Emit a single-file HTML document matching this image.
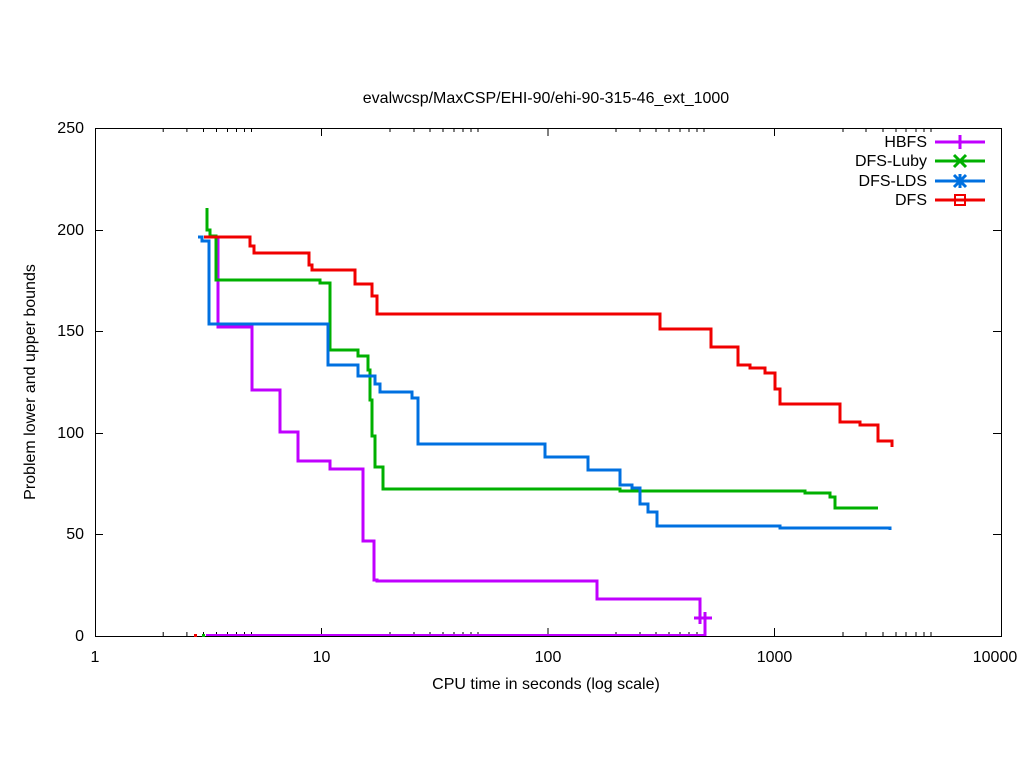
<!DOCTYPE html>
<html><head><style>body{margin:0;background:#fff}svg{display:block}text{font-family:"Liberation Sans",sans-serif;font-size:16px}</style></head><body>
<svg width="1024" height="768" xmlns="http://www.w3.org/2000/svg">
<rect width="1024" height="768" fill="#fff"/>
<text x="546" y="103" text-anchor="middle">evalwcsp/MaxCSP/EHI-90/ehi-90-315-46_ext_1000</text>
<g stroke="#000" stroke-width="1" fill="none">
<rect x="95.5" y="128.5" width="906" height="508"/>
<path d="M95,534.5h8M1001,534.5h-8M95,433.5h8M1001,433.5h-8M95,331.5h8M1001,331.5h-8M95,230.5h8M1001,230.5h-8"/>
<path d="M321.5,636v-8M321.5,128v8M548,636v-8M548,128v8M774.5,636v-8M774.5,128v8"/>
<path d="M163.2,636v-4M186.9,636v-4M203.5,636v-4M216.5,636v-4M227.5,636v-4M236.5,636v-4M244.5,636v-4M251.5,636v-4M390,636v-4M414,636v-4M430,636v-4M443,636v-4M454,636v-4M463,636v-4M471,636v-4M478,636v-4M616,636v-4M640,636v-4M656,636v-4M669,636v-4M680,636v-4M689,636v-4M697,636v-4M704,636v-4M843,636v-4M866,636v-4M883,636v-4M896,636v-4M906,636v-4M916,636v-4M924,636v-4M931,636v-4M163.2,128v4M186.9,128v4M203.5,128v4M216.5,128v4M227.5,128v4M236.5,128v4M244.5,128v4M251.5,128v4M390,128v4M414,128v4M430,128v4M443,128v4M454,128v4M463,128v4M471,128v4M478,128v4M616,128v4M640,128v4M656,128v4M669,128v4M680,128v4M689,128v4M697,128v4M704,128v4M843,128v4M866,128v4M883,128v4M896,128v4M906,128v4M916,128v4M924,128v4M931,128v4"/>
</g>
<g text-anchor="end"><text x="84" y="641">0</text><text x="84" y="539">50</text><text x="84" y="438">100</text><text x="84" y="336">150</text><text x="84" y="235">200</text><text x="84" y="133">250</text></g>
<g text-anchor="middle"><text x="95" y="662">1</text><text x="321.5" y="662">10</text><text x="548" y="662">100</text><text x="774.5" y="662">1000</text><text x="995" y="662">10000</text>
<text x="546" y="689">CPU time in seconds (log scale)</text></g>
<text transform="translate(35,382) rotate(-90)" text-anchor="middle">Problem lower and upper bounds</text>
<g fill="none" stroke-width="3">
<path stroke="#c000ff" stroke-width="2" d="M206,635H705"/>
<rect x="194" y="634" width="3" height="3" fill="#f00000" stroke="none"/>
<rect x="202" y="634" width="3" height="3" fill="#00b000" stroke="none"/>
<path stroke="#c000ff" d="M218,237V327H252V390H280V432H298V461H330V469H363V508V541H374V580H377V581H597V599H700V624M705,618V636"/>
<path stroke="#00b000" d="M207,208V230H210V236H216V280H320V283H330V350H358V356H368V370H370V400H372V436H375V467H383V489H620V491H805V493H830V497H835V508H878"/>
<path stroke="#0070e0" d="M198,237H202V241H209V324H328V365H358V376H375V384H380V392H412V398H418V444H545V457H588V470H620V485H632V488H640V504H648V512H657V526H780V528H890V530"/>
<path stroke="#f00000" d="M204,237H250V246H254V253H309V265H312V270H355V284H372V296H377V314H660V329H711V347H738V365H750V368H765V373H775V389H780V404H840V422H860V425H878V441H892V447"/>
<path stroke="#c000ff" d="M694,618h18M705,612v14"/>
</g>
<g text-anchor="end"><text x="927" y="147">HBFS</text><text x="927" y="166">DFS-Luby</text><text x="927" y="186">DFS-LDS</text><text x="927" y="205">DFS</text></g>
<g fill="none" stroke-width="3">
<path stroke="#c000ff" d="M935,142h50M960,135v14"/>
<path stroke="#00b000" d="M935,161h50M954,155l12,12M966,155l-12,12"/>
<path stroke="#0070e0" d="M935,181h50M954,175l12,12M966,175l-12,12M960,174v14M953,181h14"/>
<path stroke="#f00000" d="M935,200h50"/><rect x="955" y="195" width="10" height="10" stroke="#f00000" stroke-width="2" fill="none"/>
</g>
</svg>
</body></html>
